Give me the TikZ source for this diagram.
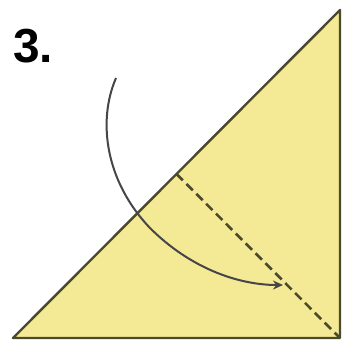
\documentclass[tikz,border=0pt]{standalone}
\usepackage{fontspec}
\setmainfont{Liberation Sans}
\usetikzlibrary{arrows.meta, calc}
\definecolor{paper}{HTML}{F4E994}
\definecolor{edge}{HTML}{4A4A2E}
\definecolor{ink}{HTML}{45454A}

\begin{document}
\begin{tikzpicture}[x=1bp, y=-1bp, >={Stealth[length=10bp,width=9bp]}]
  \useasboundingbox (0,0) rectangle (344,342);
  \coordinate (bl) at (13,338);
  \coordinate (br) at (340,338);
  \coordinate (tr) at (340,10);
  \coordinate (mid) at ($ (bl)!0.5!(tr) $);
  \filldraw[fill=paper, draw=edge, line width=2.4bp, line join=round] (bl) -- (br) -- (tr) -- cycle;
  \draw[edge, line width=2.6bp, dash pattern=on 9bp off 5bp] (mid) -- (br);
  \coordinate (from) at (116,78);
  \coordinate (to) at (283,285);
  \draw[ink, line width=2bp, ->] (from) .. controls (97,122) and (106,182) .. (150,228)
    .. controls (190,268) and (238,285) .. (to);
  \node[font=\bfseries\fontsize{48}{48}\selectfont, anchor=base west, inner sep=0pt] (step3) at (13,62) {3.};
\end{tikzpicture}
\end{document}
